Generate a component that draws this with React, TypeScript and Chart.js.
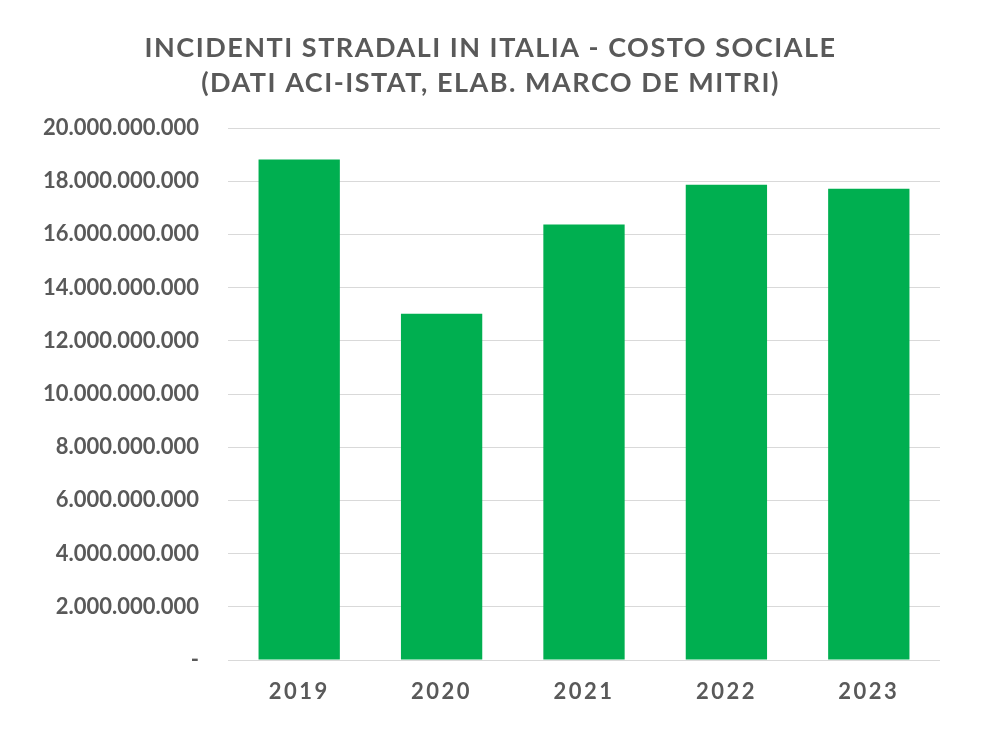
import React, { useEffect, useRef } from "react";
import { Chart, registerables } from "chart.js";

Chart.register(...registerables);

const titleLines = [
  "INCIDENTI STRADALI IN ITALIA - COSTO SOCIALE",
  "(DATI ACI-ISTAT, ELAB. MARCO DE MITRI)",
];
const years = ["2019", "2020", "2021", "2022", "2023"];
const costs = [18820000000, 13020000000, 16370000000, 17870000000, 17720000000];
const yMax = 20000000000;
const yStep = 2000000000;

const TEXT = "#595959";
const FONT = "Lato, 'Open Sans', sans-serif";

function fmt(v: number): string {
  if (v === 0) return "-";
  return Math.round(v)
    .toString()
    .replace(/\B(?=(\d{3})+(?!\d))/g, ".");
}

export default function App() {
  const ref = useRef<HTMLCanvasElement | null>(null);
  useEffect(() => {
    if (!ref.current) return;
    const titlePlugin = {
      id: "customTitle",
      afterLayout(chart: any) {
        const s = chart.scales.x;
        if (s && !s._lsWrapped) {
          const orig = s.drawLabels.bind(s);
          s.drawLabels = (ca: any) => {
            const c = s.ctx;
            c.save();
            c.letterSpacing = "2.5px";
            orig(ca);
            c.restore();
          };
          s._lsWrapped = true;
        }
      },
      afterDraw(chart: any) {
        const ctx = chart.ctx;
        ctx.save();
        ctx.fillStyle = TEXT;
        ctx.font = `bold 27px ${FONT}`;
        (ctx as any).letterSpacing = "1.5px";
        ctx.textAlign = "center";
        ctx.textBaseline = "middle";
        ctx.fillText(titleLines[0], chart.width / 2 - 8, 48);
        ctx.fillText(titleLines[1], chart.width / 2 - 8, 83);
        ctx.restore();
      },
    };
    const chart = new Chart(ref.current, {
      type: "bar",
      data: {
        labels: years,
        datasets: [
          {
            data: costs,
            backgroundColor: "#00AF50",
            borderWidth: 0,
            categoryPercentage: 1,
            barPercentage: 0.571,
          },
        ],
      },
      options: {
        animation: false,
        responsive: false,
        layout: { padding: { top: 128, right: 57, bottom: 0, left: 0 } },
        plugins: {
          legend: { display: false },
          title: { display: false },
          tooltip: { enabled: false },
        },
        scales: {
          x: {
            grid: { display: false, drawTicks: false },
            border: { display: false },
            ticks: {
              color: TEXT,
              font: { family: FONT, size: 22, weight: "bold" },
              padding: 19,
            },
            afterFit(scale: any) {
              scale.height = 82;
            },
          },
          y: {
            min: 0,
            max: yMax,
            grid: { color: "#d9d9d9", lineWidth: 1, drawTicks: false },
            border: { display: false },
            ticks: {
              stepSize: yStep,
              color: TEXT,
              font: { family: FONT, size: 22, weight: "bold" },
              padding: 29,
              callback: (v: any) => fmt(Number(v)),
            },
            afterFit(scale: any) {
              scale.width = 228;
            },
          },
        },
      },
      plugins: [titlePlugin],
    });
    return () => chart.destroy();
  }, []);
  return (
    <div style={{ position: "fixed", left: 0, top: 0, width: 997, height: 742, background: "#fff" }}>
      <canvas ref={ref} width={997} height={742} style={{ display: "block" }} />
    </div>
  );
}
